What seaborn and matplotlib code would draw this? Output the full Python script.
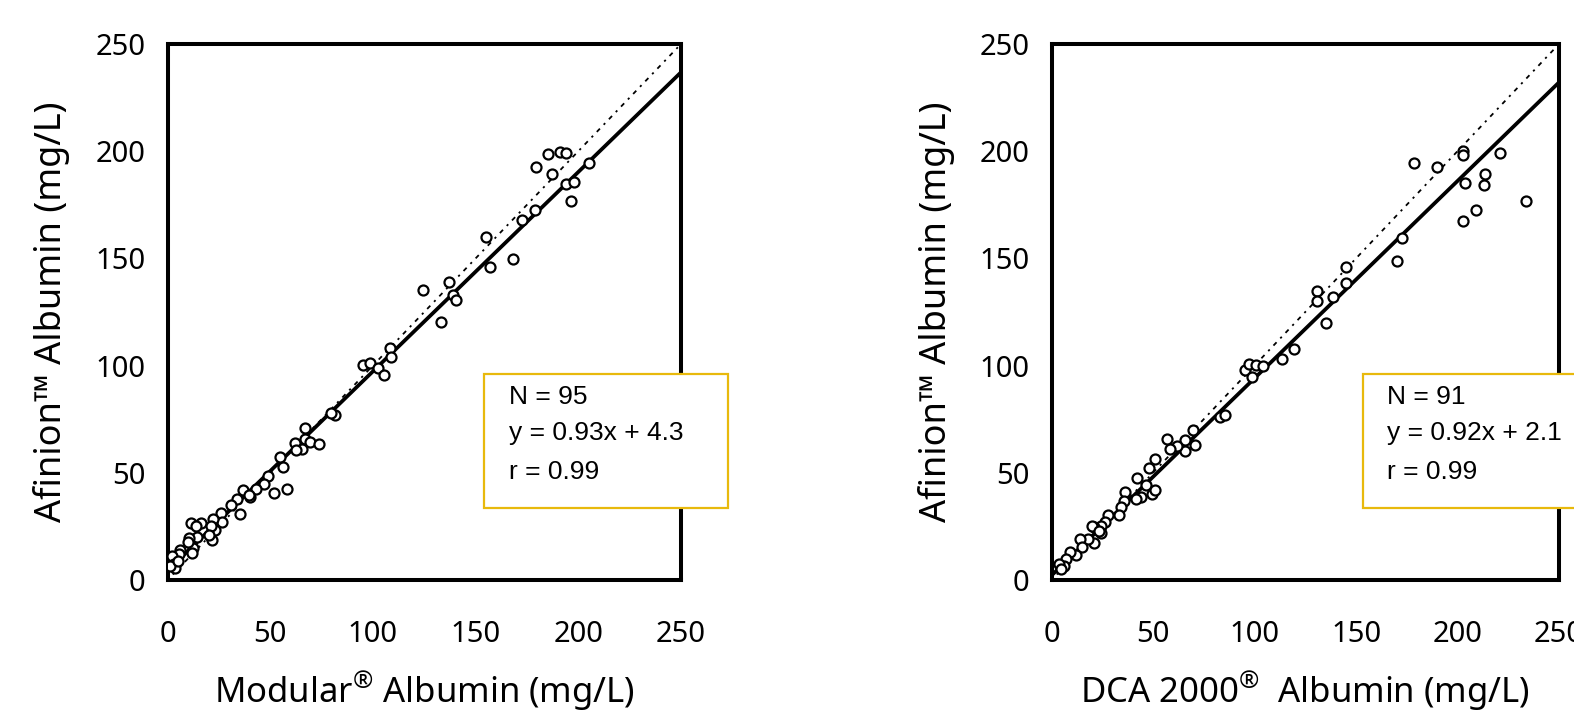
import matplotlib
matplotlib.use("Agg")
import matplotlib.pyplot as plt
import seaborn as sns
import numpy as np
import pandas as pd
from matplotlib.patches import Rectangle

# ---------------- data ----------------
modular_x = [179.5, 185.3, 191.1, 194.1, 187.0, 205.1, 193.9, 198.0, 196.4, 178.9,
             172.6, 155.3, 156.8, 168.0, 124.4, 137.1, 138.8, 140.4, 133.0, 108.1,
             108.9, 95.4, 98.7, 102.5, 105.6, 81.7, 79.7, 66.8, 66.8, 61.9,
             65.7, 62.7, 69.5, 73.9, 55.0, 56.1, 48.8, 47.2, 52.0, 58.3,
             43.1, 36.8, 40.4, 39.6, 34.0, 31.0, 35.5, 26.1, 26.4, 22.3,
             23.1, 21.9, 16.2, 11.6, 14.0, 14.2, 10.4, 12.4, 11.7, 10.1,
             6.3, 5.8, 2.1, 3.0, 3.8, 1.0, 5.0, 21.1, 20.3]
modular_y = [192.8, 198.5, 199.8, 199.0, 189.5, 194.4, 184.6, 185.5, 176.8, 172.7,
             167.8, 159.8, 146.2, 149.5, 135.1, 138.9, 132.7, 130.7, 120.4, 108.3,
             103.8, 100.5, 101.0, 98.9, 95.6, 77.1, 78.1, 70.8, 65.8, 63.7,
             61.3, 60.8, 64.2, 63.4, 57.2, 52.8, 48.5, 44.9, 40.8, 42.5,
             42.5, 42.0, 38.9, 39.5, 37.9, 35.1, 31.0, 31.4, 27.0, 28.6,
             23.4, 18.5, 26.5, 26.5, 25.3, 19.9, 19.6, 15.0, 12.7, 17.6,
             14.2, 12.3, 11.1, 7.4, 5.7, 6.5, 9.0, 25.3, 21.2]

dca_x = [202.7, 202.7, 178.4, 189.8, 221.1, 213.6, 213.1, 203.5, 233.7, 208.9,
         202.7, 172.5, 170.0, 145.3, 145.1, 131.0, 131.0, 138.6, 135.1, 119.6,
         113.4, 95.3, 97.3, 100.7, 104.0, 99.0, 83.2, 85.7, 69.6, 70.5,
         65.9, 65.9, 61.7, 58.4, 57.0, 50.8, 48.0, 46.6, 49.7, 51.2,
         41.9, 44.1, 41.6, 36.2, 35.7, 34.1, 33.2, 27.7, 26.5, 24.5,
         24.3, 21.0, 20.1, 21.1, 18.1, 13.9, 15.1, 11.9, 8.9, 6.9,
         6.0, 3.9, 4.7, 23.2]
dca_y = [200.3, 198.4, 194.3, 192.6, 199.2, 189.3, 184.4, 185.2, 176.6, 172.5,
         167.5, 159.5, 148.9, 145.9, 138.5, 134.8, 130.3, 132.0, 120.0, 107.9,
         102.9, 98.0, 100.8, 100.5, 99.7, 94.8, 76.2, 77.0, 70.0, 62.8,
         65.2, 60.2, 62.6, 61.0, 65.9, 56.6, 52.1, 44.3, 40.2, 41.8,
         47.5, 38.5, 37.7, 41.0, 36.9, 33.9, 30.3, 30.3, 27.0, 25.4,
         22.1, 24.9, 25.4, 17.2, 18.9, 19.2, 15.6, 11.5, 13.1, 9.8,
         6.6, 7.4, 4.9, 23.0]

panels = [
    dict(x=modular_x, y=modular_y, n=95, slope=0.93, intercept=4.3, r=0.99,
         xlabel=r"Modular$^{\mathrm{®}}$ Albumin (mg/L)"),
    dict(x=dca_x, y=dca_y, n=91, slope=0.92, intercept=2.1, r=0.99,
         xlabel="DCA 2000$^{\\mathrm{®}}$  Albumin (mg/L)"),
]
ylabel = "Afinion™ Albumin (mg/L)"
ticks = [0, 50, 100, 150, 200, 250]
line_x = [0, 250]

# ---------------- style ----------------
sns.set_theme(style="white")
plt.rcParams["font.family"] = ["Noto Sans", "DejaVu Sans"]
plt.rcParams["mathtext.fontset"] = "custom"
plt.rcParams["mathtext.rm"] = "Noto Sans"

fig = plt.figure(figsize=(15.74, 7.2), dpi=100)
fig.patch.set_facecolor("white")

positions = [
    [167.5 / 1574, 140 / 720, 513.5 / 1574, 536 / 720],
    [1051.5 / 1574, 140 / 720, 507.5 / 1574, 536 / 720],
]
box_x0 = [0.616, 0.614]
text_x = [0.665, 0.661]

for i, p in enumerate(panels):
    ax = fig.add_axes(positions[i])
    df = pd.DataFrame({"x": p["x"], "y": p["y"]})
    lines = pd.DataFrame({"x": line_x,
                          "fit": [p["slope"] * v + p["intercept"] for v in line_x],
                          "ident": line_x})
    ax.plot(lines["x"], lines["ident"], color="black", lw=1.3,
            linestyle=(0, (1.2, 3, 2.5, 3)), zorder=2)
    sns.lineplot(data=lines, x="x", y="fit", ax=ax, color="black", lw=2.7, zorder=3)
    sns.scatterplot(data=df, x="x", y="y", ax=ax, marker="o", s=52,
                    facecolor="white", edgecolor="black", linewidth=1.6, zorder=4)

    ax.set_xlim(0, 250)
    ax.set_ylim(0, 250)
    ax.set_xticks(ticks)
    ax.set_yticks(ticks)
    ax.set_xticklabels([str(t) for t in ticks])
    ax.set_yticklabels([str(t) for t in ticks])
    for s in ax.spines.values():
        s.set_visible(True)
        s.set_color("black")
        s.set_linewidth(2.9)
    ax.tick_params(axis="both", direction="out", length=7, width=1.0,
                   color="black", labelsize=21, labelcolor="black")
    ax.tick_params(axis="x", pad=22)
    ax.tick_params(axis="y", pad=9)
    ax.set_xlabel(p["xlabel"], fontsize=25, color="black")
    ax.set_ylabel(ylabel, fontsize=26, color="black")
    ax.xaxis.set_label_coords(0.5, -0.165)
    ax.yaxis.set_label_coords(-0.19, 0.5)

    rect = Rectangle((box_x0[i], 0.135), 0.476, 0.25, transform=ax.transAxes,
                     facecolor="white", edgecolor="#E8B90C", linewidth=1.6,
                     clip_on=False, zorder=6)
    ax.add_patch(rect)
    rows = [f"N = {p['n']}",
            f"y = {p['slope']:.2f}x + {p['intercept']:.1f}",
            f"r = {p['r']:.2f}"]
    for txt, yy in zip(rows, [0.341, 0.274, 0.201]):
        ax.text(text_x[i], yy, txt, transform=ax.transAxes, fontsize=19,
                family=["Liberation Sans", "DejaVu Sans"], va="center", ha="left",
                color="black", zorder=7, clip_on=False)

fig.savefig("out.png", dpi=100, facecolor="white")
